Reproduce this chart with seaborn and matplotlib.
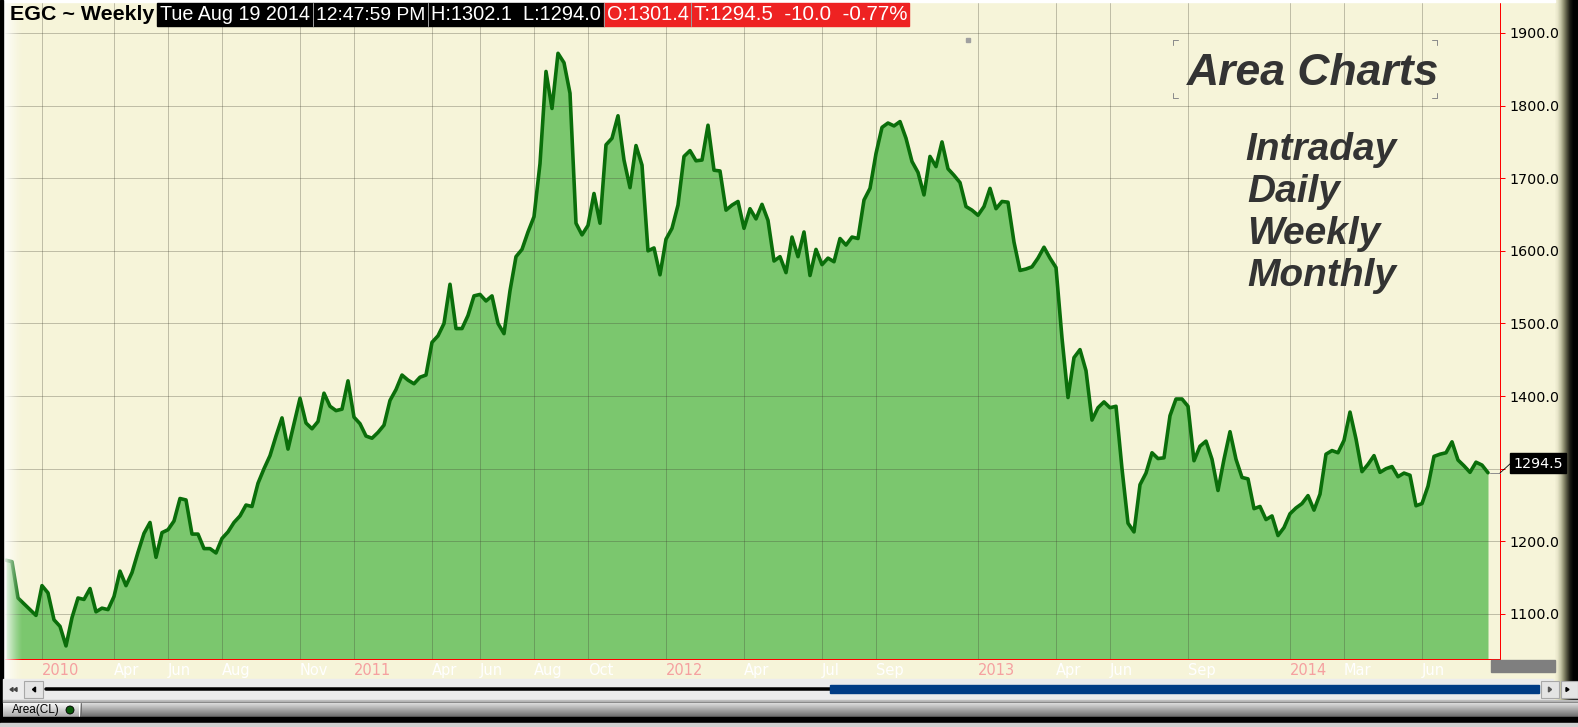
import numpy as np
import pandas as pd
import matplotlib
matplotlib.use("Agg")
import matplotlib.pyplot as plt
import seaborn as sns
from matplotlib import font_manager
from matplotlib.patches import Rectangle, Circle, Polygon

# ---------------- data (weekly closes) ----------------
close_2009 = [1174, 1172, 1122, 1114, 1106, 1098]
close_2010 = [1139, 1129, 1092, 1083, 1056, 1095, 1122, 1120, 1135, 1103, 1108, 1106, 1124,
              1159, 1139, 1157, 1185, 1211, 1226, 1178, 1212, 1216, 1228, 1259, 1257, 1210,
              1210, 1190, 1190, 1184, 1204, 1213, 1226, 1235, 1250, 1248, 1280, 1300, 1318,
              1345, 1370, 1327, 1362, 1397, 1363, 1355, 1365, 1404, 1386, 1380, 1382, 1421]
close_2011 = [1371, 1362, 1345, 1342, 1350, 1360, 1394, 1409, 1429, 1422, 1417, 1426, 1429,
              1474, 1483, 1500, 1554, 1493, 1493, 1511, 1538, 1540, 1531, 1538, 1500, 1486,
              1545, 1592, 1602, 1626, 1647, 1720, 1847, 1796, 1872, 1859, 1817, 1638, 1622,
              1635, 1679, 1638, 1746, 1755, 1786, 1725, 1687, 1745, 1718, 1600, 1604, 1567]
close_2012 = [1616, 1631, 1663, 1730, 1738, 1724, 1725, 1773, 1711, 1710, 1656, 1663, 1668,
              1631, 1658, 1644, 1664, 1642, 1586, 1592, 1570, 1619, 1592, 1626, 1566, 1602,
              1581, 1590, 1585, 1617, 1608, 1619, 1617, 1670, 1686, 1734, 1770, 1776, 1772,
              1778, 1755, 1723, 1708, 1677, 1730, 1716, 1750, 1713, 1704, 1694, 1661, 1656]
close_2013 = [1649, 1661, 1686, 1658, 1668, 1667, 1612, 1573, 1575, 1578, 1590, 1605, 1590,
              1577, 1480, 1398, 1453, 1464, 1435, 1367, 1384, 1392, 1384, 1386, 1300, 1225,
              1213, 1278, 1294, 1322, 1314, 1315, 1373, 1396, 1396, 1386, 1311, 1331, 1338,
              1313, 1270, 1313, 1351, 1313, 1288, 1286, 1245, 1248, 1230, 1235, 1208, 1219]
close_2014 = [1238, 1246, 1252, 1263, 1243, 1265, 1320, 1325, 1322, 1339, 1378, 1341, 1296,
              1306, 1318, 1295, 1300, 1303, 1289, 1294, 1291, 1249, 1252, 1276, 1317, 1320,
              1322, 1337, 1312, 1304, 1295, 1309, 1305, 1294.5]

last_date = "2014-08-21"
tick_months = ["2010-01", "2010-04", "2010-06", "2010-08", "2010-11",
               "2011-01", "2011-04", "2011-06", "2011-08", "2011-10",
               "2012-01", "2012-04", "2012-07", "2012-09",
               "2013-01", "2013-04", "2013-06", "2013-09",
               "2014-01", "2014-03", "2014-06"]
tick_labels = ["2010", "Apr", "Jun", "Aug", "Nov", "2011", "Apr", "Jun", "Aug", "Oct",
               "2012", "Apr", "Jul", "Sep", "2013", "Apr", "Jun", "Sep", "2014", "Mar", "Jun"]
y_ticks = [1100, 1200, 1300, 1400, 1500, 1600, 1700, 1800, 1900]
y_hidden = [1300]  # covered by the last-price marker in the reference

header_title = "EGC ~ Weekly"
header_black = ["Tue Aug 19 2014", "12:47:59 PM", "H:1302.1  L:1294.0"]
header_red = ["O:1301.4", "T:1294.5  -10.0  -0.77%"]
last_label = "1294.5"
big_title = "Area Charts"
side_lines = ["Intraday", "Daily", "Weekly", "Monthly"]

close = close_2009 + close_2010 + close_2011 + close_2012 + close_2013 + close_2014
dates = pd.date_range(end=last_date, periods=len(close), freq="7D")
df = pd.DataFrame({"date": dates, "close": close})

# ---------------- style ----------------
sns.set_style("white")
CREAM = "#F6F4D9"
FILL = "#7BC76E"
LINE = "#0A6E0A"
W, H = 1578, 727
px = 0.72  # points per pixel at 100 dpi

names = {f.name for f in font_manager.fontManager.ttflist}
NARROW = "Liberation Sans Narrow" if "Liberation Sans Narrow" in names else "Liberation Sans"
plt.rcParams["font.family"] = ["DejaVu Sans"]

fig = plt.figure(figsize=(W / 100, H / 100), dpi=100, facecolor=CREAM)

# background decorations (below the axis labels)
bax = fig.add_axes([0, 0, 1, 1], zorder=-1)
bax.set_xlim(0, W)
bax.set_ylim(H, 0)
bax.axis("off")
bax.patch.set_alpha(0)
cols = np.array([[246, 244, 217], [232, 230, 202], [196, 196, 166], [140, 140, 110],
                 [80, 80, 62], [25, 25, 18], [0, 0, 0], [0, 0, 0]]) / 255
bax.imshow(cols[None, :, :], extent=(1553, 1578, 718, 0), aspect="auto",
           interpolation="bilinear")

ax = fig.add_axes([5 / W, (H - 659) / H, 1495 / W, 659 / H])
ax.set_facecolor(CREAM)

ax.fill_between(df["date"], df["close"], 1000, color=FILL, lw=0, zorder=1)
sns.lineplot(data=df, x="date", y="close", ax=ax, color=LINE, lw=3.6 * px, zorder=3)

ax.set_xlim(dates[0] - pd.Timedelta(days=7 / 6), dates[0] + pd.Timedelta(days=1743))
ax.set_ylim(1038, 1945.4)
ax.set_xlabel("")
ax.set_ylabel("")

# grid
ax.set_axisbelow("line")
ax.grid(True, color=(0.25, 0.25, 0.2), alpha=0.3, lw=1 * px)

# spines
for s in ["left", "top"]:
    ax.spines[s].set_visible(False)
for s in ["right", "bottom"]:
    ax.spines[s].set_color("#FF0000")
    ax.spines[s].set_linewidth(1 * px)

# y axis on right
ax.yaxis.tick_right()
ax.set_yticks(y_ticks)
ax.set_yticklabels(["" if v in y_hidden else f"{v:.1f}" for v in y_ticks])
ax.tick_params(axis="y", color="#FF0000", labelcolor="black", length=5 * px,
               width=1 * px, pad=4.5 * px, labelsize=10.3)

# x ticks
tick_pos = [dates[dates.strftime("%Y-%m") == m][0] for m in tick_months]
ax.set_xticks(tick_pos)
ax.set_xticklabels(tick_labels)
ax.tick_params(axis="x", color="#FF0000", length=6 * px, width=1 * px, pad=-1.5,
               labelsize=10.5)
for tick, lab in zip(ax.xaxis.get_major_ticks(), tick_labels):
    is_year = lab.isdigit()
    tick.label1.set_horizontalalignment("left")
    tick.label1.set_color("#F5A0A0" if is_year else "#FFFFFF")
    if is_year:
        tick.tick1line.set_color("#F0E000")

# ---------------- overlay in pixel coordinates ----------------
oax = fig.add_axes([0, 0, 1, 1], zorder=10)
oax.set_xlim(0, W)
oax.set_ylim(H, 0)
oax.axis("off")
oax.patch.set_alpha(0)
renderer = fig.canvas.get_renderer()


def fit_text(x, y, s, width, size0=12, **kw):
    t = oax.text(x, y, s, fontsize=size0, **kw)
    w = t.get_window_extent(renderer).width
    t.set_fontsize(size0 * width / w)
    return t


# top white line and left border
oax.add_patch(Rectangle((0, 0), 1555, 2, color="white", zorder=1))
glow = np.ones((1, 40, 4))
glow[0, :, 3] = np.linspace(1, 0, 40) ** 1.3
oax.imshow(glow, extent=(3, 23, 680, 0), aspect="auto", zorder=2, interpolation="bilinear")
oax.add_patch(Rectangle((0, 0), 3, 718, color="black", zorder=3))

# header
fit_text(10, 15, header_title, 143, fontweight="bold", family="Liberation Sans",
         va="center", ha="left", color="black", zorder=6)
oax.add_patch(Rectangle((157, 3), 447, 23, color="black", zorder=5))
oax.add_patch(Rectangle((604, 3), 305, 23, color="#EE2222", zorder=5))
segs_black = [(157, 313), (313, 428), (428, 604)]
segs_red = [(604, 691), (691, 909)]
for (a, b), s in zip(segs_black + segs_red, header_black + header_red):
    fit_text(a + 3, 15, s, b - a - 6, family=NARROW, va="center", ha="left",
             color="white", zorder=7)
for xs in [313, 428, 604, 691]:
    oax.plot([xs, xs], [3, 26], color="#9A9A9A", lw=1 * px, zorder=8)

# Area Charts annotation
TXT = "#333333"
fit_text(1187, 85, big_title, 252, family="Liberation Sans", fontweight="bold",
         fontstyle="italic", color=TXT, va="baseline", ha="left", zorder=6)
t0 = fit_text(1245, 160, side_lines[0], 151, family="Liberation Sans", fontweight="bold",
              fontstyle="italic", color=TXT, va="baseline", ha="left", zorder=6)
fs = t0.get_fontsize()
for i, s in enumerate(side_lines[1:], start=1):
    oax.text(1247, 160 + 42 * i, s, fontsize=fs, family="Liberation Sans", fontweight="bold",
             fontstyle="italic", color=TXT, va="baseline", ha="left", zorder=6)
bc = "#8C8C8C"
for (cx, cy, dx, dy) in [(1173, 40, 1, 1), (1437, 40, -1, 1), (1173, 98, 1, -1), (1437, 98, -1, -1)]:
    oax.plot([cx, cx + 5 * dx], [cy, cy], color=bc, lw=1 * px, zorder=6)
    oax.plot([cx, cx], [cy, cy + 5 * dy], color=bc, lw=1 * px, zorder=6)
oax.add_patch(Rectangle((966, 38), 4, 4, color="#A0A0A0", zorder=6))

# price label on right axis
oax.plot([1490, 1500], [472.5, 472.5], color="#909090", lw=1 * px, zorder=6)
oax.plot([1500, 1511], [473, 463], color="black", lw=0.8 * px, zorder=6)
oax.add_patch(Rectangle((1510, 453), 56, 20, color="black", zorder=7))
oax.text(1538, 463.5, last_label, color="white", fontsize=10.3, ha="center", va="center",
         zorder=8)

# gray block at the end of time axis
oax.add_patch(Rectangle((1491, 660), 64, 12, color="#7F7F7F", zorder=5))

# scrollbar row
oax.add_patch(Rectangle((3, 679), 1550, 21, color="#ECECEC", zorder=5))
oax.plot([46, 830], [688.5, 688.5], color="black", lw=3.5 * px, zorder=6,
         solid_capstyle="round")
oax.add_patch(Rectangle((830, 684.5), 709, 8, color="#003C85", zorder=6))
oax.add_patch(Rectangle((24, 681), 19, 17, fc="#E4E4E4", ec="#A8A8A8", lw=0.8, zorder=6))
oax.add_patch(Polygon([(32.5, 689.5), (35.5, 687), (35.5, 692)], color="black", zorder=7))
for x0 in (10, 14):
    oax.add_patch(Polygon([(x0, 689.5), (x0 + 3, 687.5), (x0 + 3, 691.5)], color="#444444",
                          zorder=7))
oax.add_patch(Rectangle((1541, 681), 18, 17, fc="#E4E4E4", ec="#A8A8A8", lw=0.8, zorder=6))
oax.add_patch(Polygon([(1551.5, 689.5), (1548.5, 687), (1548.5, 692)], color="#555555", zorder=7))
oax.add_patch(Rectangle((1561, 681), 17, 17, fc="#E4E4E4", ec="#A8A8A8", lw=0.8, zorder=6))
oax.add_patch(Polygon([(1569, 689.5), (1566, 687.5), (1566, 691.5)], color="black", zorder=7))

# separator lines and study bar
oax.add_patch(Rectangle((3, 700), 1575, 2, color="#BEBEBE", zorder=5))
oax.add_patch(Rectangle((3, 702), 1575, 1, color="#8A8A8A", zorder=5))
bar = np.linspace([0.86, 0.86, 0.86], [0.42, 0.42, 0.42], 20)[:, None, :]
oax.imshow(bar, extent=(3, 1578, 717, 703), aspect="auto", zorder=5, interpolation="bilinear")
tab = np.linspace([0.97, 0.97, 0.97], [0.66, 0.66, 0.66], 20)[:, None, :]
oax.imshow(tab, extent=(3, 79, 717, 703), aspect="auto", zorder=6, interpolation="bilinear")
oax.text(12, 710.5, "Area(CL)", fontsize=8.5, family="Liberation Sans", color="black",
         va="center", ha="left", zorder=7)
oax.add_patch(Circle((70, 710), 4, fc="#0A5A0A", ec="black", lw=0.6, zorder=7))
oax.plot([79, 79], [703, 717], color="white", lw=1 * px, zorder=7)
oax.plot([81, 81], [703, 717], color="#707070", lw=1 * px, zorder=7)

# bottom frame
oax.add_patch(Rectangle((0, 717), W, 6, color="black", zorder=8))
oax.add_patch(Rectangle((0, 723), W, 4, color="#CFCFCF", zorder=8))

fig.savefig("out.png", dpi=100, facecolor=CREAM)
